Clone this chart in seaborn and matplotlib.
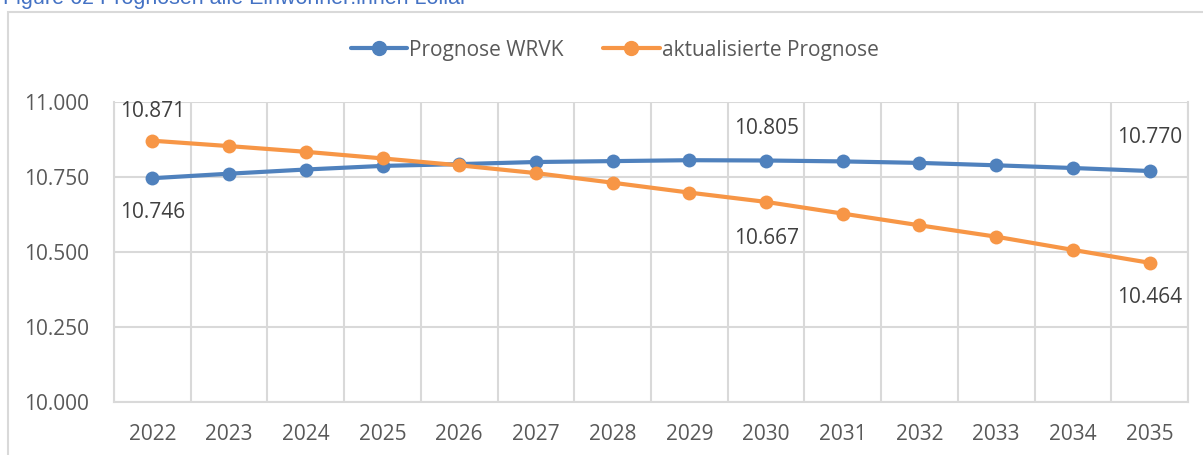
import pandas as pd
import matplotlib.pyplot as plt
import seaborn as sns
from matplotlib.patches import Rectangle
from matplotlib.ticker import FuncFormatter, MultipleLocator

# Values (inhabitants)
years = list(range(2022, 2036))
prognose_wrvk = [10746, 10761, 10775, 10787, 10793, 10800, 10803, 10806, 10805, 10802, 10797, 10789, 10780, 10770]
aktualisiert = [10871, 10853, 10834, 10812, 10789, 10763, 10731, 10698, 10667, 10628, 10589, 10551, 10507, 10464]
series_names = ['Prognose WRVK', 'aktualisierte Prognose']
label_years = [2022, 2030, 2035]

df = pd.DataFrame({'Jahr': years, series_names[0]: prognose_wrvk, series_names[1]: aktualisiert})
long = df.melt(id_vars='Jahr', var_name='Reihe', value_name='Einwohner')

sns.set_style('white')
plt.rcParams['font.family'] = ['Open Sans', 'DejaVu Sans']

blue, orange = '#4F81BD', '#F79646'
grid_c = '#D9D9D9'
txt_c = '#595959'

fig = plt.figure(figsize=(12.03, 4.55), dpi=100)
ax = fig.add_axes([0.0948, 0.1165, 0.8927, 0.6593])

sns.lineplot(data=long, x='Jahr', y='Einwohner', hue='Reihe', ax=ax,
             palette=[blue, orange], marker='o', markersize=10,
             markeredgewidth=0, linewidth=3, legend=False)

ax.set_xlim(2021.5, 2035.5)
ax.set_ylim(10000, 11000)
ax.set_xticks(years)
ax.xaxis.set_minor_locator(MultipleLocator(1, offset=0.5))
ax.yaxis.set_major_locator(MultipleLocator(250))
ax.yaxis.set_major_formatter(FuncFormatter(lambda v, p: f'{v/1000:.3f}'))
ax.grid(True, which='minor', axis='x', color=grid_c, linewidth=1.5)
ax.grid(True, which='major', axis='y', color=grid_c, linewidth=1.5)
ax.set_axisbelow(True)
for s in ax.spines.values():
    s.set_color(grid_c)
    s.set_linewidth(1.5)
ax.spines['top'].set_visible(False)
ax.tick_params(which='both', length=0, labelsize=15, labelcolor=txt_c)
ax.tick_params(axis='y', pad=18)
ax.tick_params(axis='x', pad=16)
ax.set_xlabel('')
ax.set_ylabel('')

# data labels: (blue offset, orange offset) in points
offsets = {2022: (-25, 21), 2030: (23, -26), 2035: (24, -25)}
for yr in label_years:
    i = years.index(yr)
    b, o = prognose_wrvk[i], aktualisiert[i]
    b_off, o_off = offsets[yr]
    ax.annotate(f'{b/1000:.3f}', (yr, b), xytext=(0, b_off), textcoords='offset points',
                ha='center', va='center', fontsize=15, color='#404040')
    ax.annotate(f'{o/1000:.3f}', (yr, o), xytext=(0, o_off), textcoords='offset points',
                ha='center', va='center', fontsize=15, color='#404040')

handles = [plt.Line2D([], [], color=c, marker='o', markersize=10, linewidth=3) for c in (blue, orange)]
fig.legend(handles, series_names, loc='center', bbox_to_anchor=(0.511, 0.89), ncol=2,
           frameon=False, fontsize=15, labelcolor=txt_c, handlelength=2.7,
           handletextpad=0.1, columnspacing=1.9)

# chart border and cut-off caption
fig.add_artist(Rectangle((8 / 1203, -0.1), 1.2, 1 - 12 / 455 + 0.1, transform=fig.transFigure,
                         fill=False, edgecolor=grid_c, linewidth=1.5))
fig.text(3 / 1203, 1 - 4 / 455, 'Figure 62 Prognosen alle Einwohner:innen Lollar',
         family=['Liberation Sans', 'DejaVu Sans'], fontsize=15.5, color='#4472C4',
         ha='left', va='baseline')

fig.savefig('out.png', dpi=100)
